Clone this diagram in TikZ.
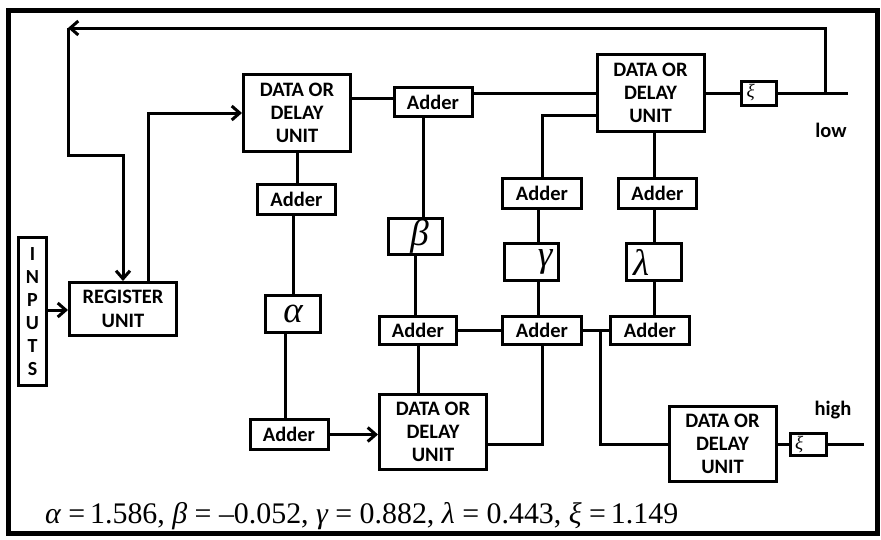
\documentclass[tikz,border=0pt]{standalone}
\usepackage{fontspec}
\setmainfont{Liberation Serif}
\newfontfamily\boxfnt{Carlito}
\usetikzlibrary{arrows.meta,calc}
\begin{document}
\begin{tikzpicture}[x=1pt,y=-1pt,
  blk/.style={draw, line width=3pt, inner sep=0pt, align=center, font=\boxfnt\bfseries\fontsize{20.5}{23}\selectfont},
  wire/.style={line width=3pt},
  arr/.style={line width=3pt, -{Straight Barb[length=8pt,width=14pt]}},
  dbox/.style={blk, minimum width=107, minimum height=77},
  adder/.style={blk, minimum width=78, minimum height=29},
  gbox/.style={blk, minimum width=55, minimum height=37, font=\fontsize{37}{37}\selectfont\itshape},
  xbox/.style={blk, minimum width=35, minimum height=24, font=\fontsize{19}{19}\selectfont\itshape},
  lbl/.style={font=\boxfnt\bfseries\fontsize{20.5}{23}\selectfont, inner sep=0pt}
]
\useasboundingbox (0,0) rectangle (881,539);
\draw[line width=5pt] (8.5,10) rectangle (877.5,533.5);

% nodes
\node[blk, minimum width=28, minimum height=148, font=\boxfnt\bfseries\fontsize{20}{23}\selectfont] (inp) at (32.5,311.5) {I\\N\\P\\U\\T\\S};
\node[blk, minimum width=107, minimum height=53, font=\boxfnt\bfseries\fontsize{20.5}{24}\selectfont] (reg) at (123,309) {REGISTER\\UNIT};
\node[dbox] (d1) at (297,113) {DATA OR\\DELAY\\UNIT};
\node[adder] (at1) at (433,102) {Adder};
\node[dbox] (d2) at (650.5,93) {DATA OR\\DELAY\\UNIT};
\node[xbox] (xi1) at (758.5,93) {\makebox[32pt][l]{\hspace{4pt}ξ}};
\node[adder, minimum height=30] (aa1) at (296.5,199.5) {Adder};
\node[gbox] (alp) at (293,314) {α};
\node[adder, minimum height=30] (aa2) at (289,434.5) {Adder};
\node[gbox, minimum width=54, minimum height=36] (bet) at (415.5,236.5) {\hspace{8pt}β};
\node[adder, minimum width=77, minimum height=28] (ab) at (418,330.5) {Adder};
\node[dbox, minimum height=75] (d3) at (433,432) {DATA OR\\DELAY\\UNIT};
\node[adder, minimum width=79, minimum height=30] (ag1) at (542,193.5) {Adder};
\node[gbox, minimum width=54] (gam) at (531.5,262) {\makebox[48pt][r]{γ\hspace{3pt}}};
\node[adder, minimum width=79, minimum height=28] (ag2) at (542,330.5) {Adder};
\node[adder, minimum width=78, minimum height=30] (al1) at (657.5,193.5) {Adder};
\node[gbox] (lam) at (654,262) {\makebox[48pt][l]{\hspace{3pt}λ}};
\node[adder, minimum width=79, minimum height=28] (al2) at (650,330.5) {Adder};
\node[dbox, minimum height=75] (d4) at (722.5,444) {DATA OR\\DELAY\\UNIT};
\node[xbox, minimum width=36, minimum height=22] (xi2) at (808.5,444.5) {\makebox[33pt][l]{\hspace{3pt}ξ}};

\node[lbl] (low) at (831,130) {low};
\node[lbl] (high) at (833,410) {high};

\coordinate (lowend) at (848,93);
\coordinate (fbj) at (825,93);
\coordinate (tl) at (68,28);
\coordinate (fbc) at (68,155);
\coordinate (br) at (600,330.5);
\coordinate (hiend) at (864,444.5);

% connectors
\draw[arr] (inp.east |- 0,310) -- (reg.west |- 0,310);
\draw[arr] ([xshift=25pt]reg.north) |- (d1.west);
\draw[wire] (xi1.east) -- (lowend);
\draw[arr] (fbj) |- (tl);
\draw[arr] (tl) -- (fbc) -| (reg.north);
\draw[wire] ([yshift=15pt]d1.east) -- ([yshift=15pt]d1.east -| at1.west);
\draw[wire] (at1.east |- d2.west) -- (d2.west);
\draw[wire] (d2.east) -- (xi1.west);
\draw[wire] ([yshift=-22pt]d2.west) -| (ag1.north);
\draw[wire] (d2.south -| lam) -- (al1.north -| lam);
\draw[wire] (al1.south -| lam) -- (lam.north);
\draw[wire] (lam.south) -- (al2.north -| lam);
\draw[wire] ([xshift=-10pt]at1.south) -- ([xshift=-10pt]at1.south |- bet.north);
\draw[wire] (bet.south) -- (bet.south |- ab.north);
\draw[wire] (ab.south) -- (ab.south |- d3.north);
\draw[wire] (ab.east) -- (ag2.west);
\draw[wire] ([xshift=-4pt]ag1.south) -- ([xshift=-4pt]ag1.south |- gam.north);
\draw[wire] ([xshift=-4pt]ag1.south |- gam.south) -- ([xshift=-4pt]ag2.north);
\draw[wire] (ag2.east) -- (al2.west);
\draw[wire] (br) |- (d4.west);
\draw[wire] (ag2.south) |- ([yshift=-12pt]d3.east);
\draw[wire] (d1.south) -- (d1.south |- aa1.north);
\draw[wire] (aa1.south -| alp) -- (alp.north);
\draw[wire] ([xshift=-8pt]alp.south) -- ([xshift=-8pt]alp.south |- aa2.north);
\draw[arr] (aa2.east) -- (d3.west |- aa2.east);
\draw[wire] (d4.east |- xi2.west) -- (xi2.west);
\draw[wire] (xi2.east) -- (hiend);

% equation
\node[anchor=base west, inner sep=0pt] (eq) at (45,523) {\resizebox{633pt}{!}{\fontsize{28}{30}\selectfont{\itshape α} =\,1.586, {\itshape β} = –0.052, {\itshape γ} = 0.882, {\itshape λ} = 0.443, {\itshape ξ} =\,1.149}};
\end{tikzpicture}
\end{document}
